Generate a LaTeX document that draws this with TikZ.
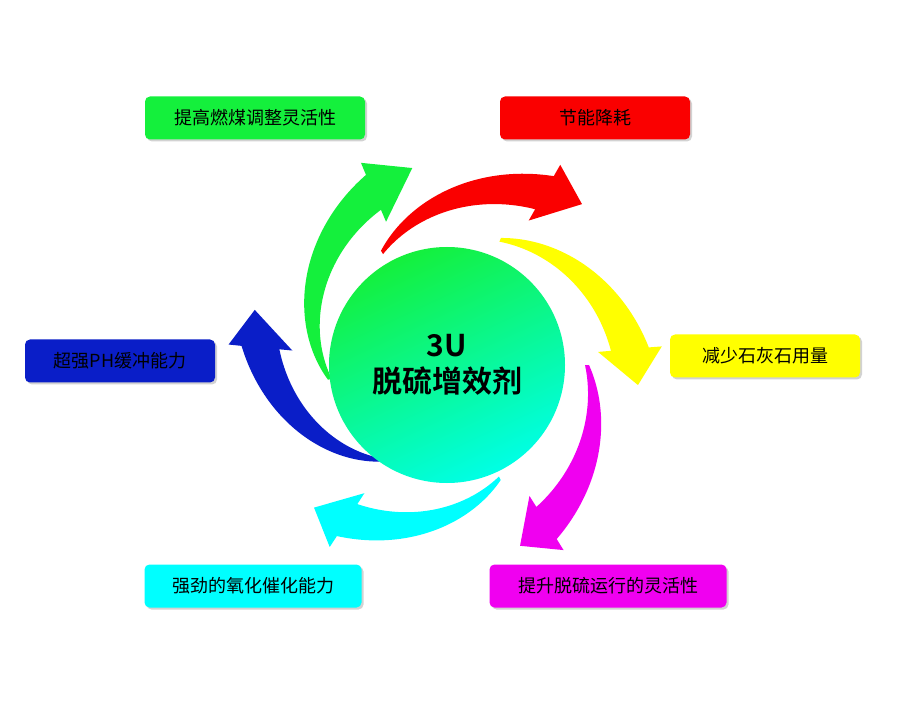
\documentclass[tikz,border=0pt]{standalone}
\usepackage{fontspec}
\setmainfont{Liberation Sans}
\newfontfamily\cjk{Noto Sans CJK SC}
\newfontfamily\cjkb{Noto Sans CJK SC Bold}
\usetikzlibrary{shadows}
\definecolor{cgreen}{RGB}{20,240,60}
\definecolor{cred}{RGB}{250,0,0}
\definecolor{cyel}{RGB}{255,255,0}
\definecolor{cmag}{RGB}{240,0,240}
\definecolor{ccyan}{RGB}{0,255,255}
\definecolor{cblue}{RGB}{10,30,200}
\tikzset{lab/.style={rounded corners=5pt,minimum height=43pt,font=\cjk\fontsize{18}{20}\selectfont,text=black,drop shadow={opacity=0.35,shadow xshift=2pt,shadow yshift=-2pt}}}
\newcommand\spiralarrow[5]{%
 \fill[#1,shift={(447,-365)}]
  plot[domain=0:0.85,samples=30,smooth] ({#2+(#3-#2)*\x}:{#4+(#5-#4)*\x+(2+20*\x)})
  -- ({#2+(#3-#2)*0.85}:{#4+(#5-#4)*0.85+32})
  -- ({#3}:{#5})
  -- ({#2+(#3-#2)*0.85}:{#4+(#5-#4)*0.85-32})
  -- plot[domain=0.85:0,samples=30,smooth] ({#2+(#3-#2)*\x}:{#4+(#5-#4)*\x-(2+20*\x)})
  -- cycle;}
\begin{document}
\begin{tikzpicture}[x=1pt,y=1pt]
\useasboundingbox[fill=white] (0,0) rectangle (900,-719);
\spiralarrow{cgreen}{187}{100}{118}{200}
\spiralarrow{cred}{120}{50}{130}{210}
\spiralarrow{cyel}{67}{-6}{136}{192}
\spiralarrow{cmag}{0}{-68}{140}{195}
\spiralarrow{ccyan}{-65}{-133}{125}{195}
\spiralarrow{cblue}{-125}{-196}{116}{200}
\shade[top color=cgreen, bottom color=ccyan!90!green, shading angle=25] (447,-365) circle (118);
\node (c) at (447,-365) [align=center,font=\cjkb\fontsize{30}{36}\selectfont] {3U\\脱硫增效剂};
\node (g) [lab,fill=cgreen,minimum width=220pt] at (255,-118) {提高燃煤调整灵活性};
\node (r) [lab,fill=cred,minimum width=190pt] at (595,-118) {节能降耗};
\node (y) [lab,fill=cyel,minimum width=190pt] at (765,-356) {减少石灰石用量};
\node (b) [lab,fill=cblue,minimum width=190pt] at (120,-361) {超强PH缓冲能力};
\node (cy) [lab,fill=ccyan,minimum width=217pt] at (253,-586) {强劲的氧化催化能力};
\node (m) [lab,fill=cmag,minimum width=237pt] at (608,-586) {提升脱硫运行的灵活性};
\end{tikzpicture}
\end{document}
